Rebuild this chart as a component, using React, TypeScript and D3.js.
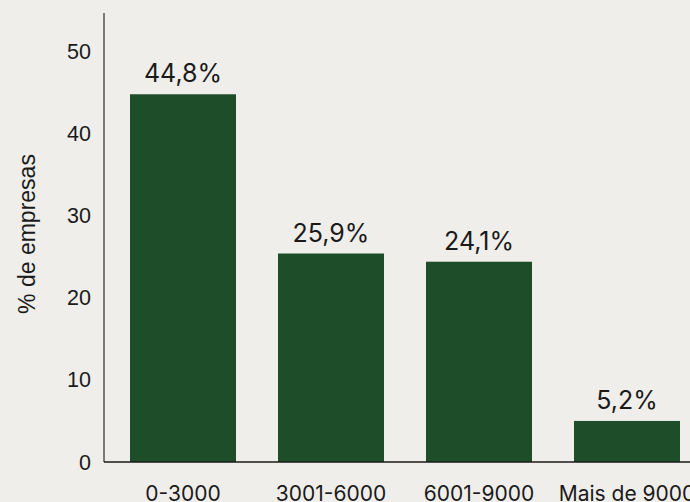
import React from "react";
import * as d3 from "d3";

const categories = ["0-3000", "3001-6000", "6001-9000", "Mais de 9000"];
const values = [44.8, 25.4, 24.4, 5.0];
const valueLabels = ["44,8%", "25,9%", "24,1%", "5,2%"];
const yTicks = [0, 10, 20, 30, 40, 50];

const W = 690;
const H = 502;

export default function App() {
  const step = 148;
  const pi = 42 / 148;
  const po = 26 / 148;
  const x0 = 104;
  const x1 = x0 + step * (categories.length - pi + 2 * po);
  const x = d3.scaleBand<string>().domain(categories).range([x0, x1]).paddingInner(pi).paddingOuter(po);
  const y = d3.scaleLinear().domain([0, 54.7]).range([462, 13]);

  return (
    <svg
      width={W}
      height={H}
      style={{ position: "fixed", left: 0, top: 0, background: "#f0eeea" }}
    >
      <rect x={0} y={0} width={W} height={H} fill="#f0eeea" />
      {categories.map((c, i) => (
        <g key={c}>
          <rect
            x={x(c)!}
            y={y(values[i])}
            width={x.bandwidth()}
            height={y(0) - y(values[i])}
            fill="#1d4d29"
          />
          <text
            x={x(c)! + x.bandwidth() / 2}
            y={y(values[i]) - 12}
            textAnchor="middle"
            fontFamily="Inter, sans-serif"
            fontSize={25}
            fill="#1a1a1a"
          >
            {valueLabels[i]}
          </text>
          <text
            x={x(c)! + x.bandwidth() / 2}
            y={501}
            textAnchor="middle"
            fontFamily="Inter, sans-serif"
            fontSize={21}
            fill="#1a1a1a"
          >
            {c}
          </text>
        </g>
      ))}
      <line x1={x0} x2={x0} y1={y.range()[1]} y2={y(0)} stroke="#7a7a7a" strokeWidth={2} />
      <line x1={x0} x2={W} y1={y(0)} y2={y(0)} stroke="#1a1a1a" strokeWidth={1.5} />
      {yTicks.map((t) => (
        <text
          key={t}
          x={91}
          y={y(t)}
          dy="0.35em"
          textAnchor="end"
          fontFamily="'Liberation Sans', Arial, sans-serif"
          fontSize={21.5}
          fill="#1a1a1a"
        >
          {t}
        </text>
      ))}
      <text
        transform={`translate(35, ${234}) rotate(-90)`}
        textAnchor="middle"
        fontFamily="'Liberation Sans', Arial, sans-serif"
        fontSize={23}
        fill="#1a1a1a"
      >
        % de empresas
      </text>
    </svg>
  );
}
